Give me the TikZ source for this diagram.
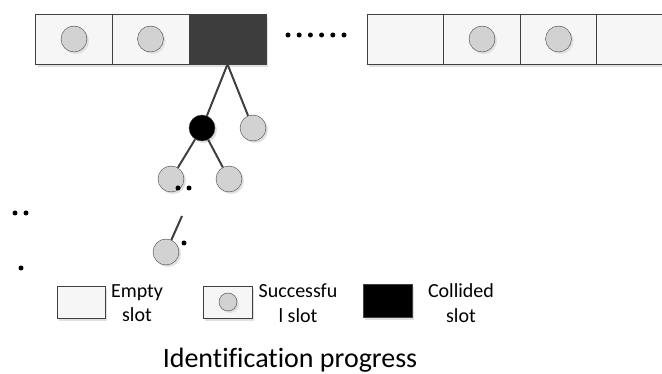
\documentclass[tikz,border=0pt]{standalone}
\usepackage{fontspec}
\setmainfont[Ligatures=CommonOff]{Carlito}
\usetikzlibrary{shadows}
\definecolor{slotfill}{HTML}{F6F6F6}
\definecolor{linegray}{HTML}{404040}
\definecolor{taggray}{HTML}{D2D2D2}
\definecolor{darkslot}{HTML}{3D3D3D}
\tikzstyle{slot}=[draw=linegray,fill=slotfill,minimum width=77pt,minimum height=50pt,inner sep=0pt,drop shadow={shadow xshift=2pt,shadow yshift=-3pt,fill=black!12,opacity=1}]
\tikzstyle{collided}=[slot,fill=darkslot]
\tikzstyle{tag}=[circle,draw=linegray,fill=taggray,minimum size=26pt,inner sep=0pt,drop shadow={shadow xshift=2pt,shadow yshift=-2pt,fill=black!12,opacity=1}]
\tikzstyle{dot}=[circle,fill=black,minimum size=5pt,inner sep=0pt]
\tikzstyle{branch}=[draw=linegray,line width=2pt]
\tikzstyle{legendtext}=[font=\fontsize{20}{24.5}\selectfont,align=center,inner sep=0pt]

\begin{document}
\begin{tikzpicture}[x=1pt,y=-1pt]
	\useasboundingbox (0,0) rectangle (662,374);
	\clip (0,0) rectangle (662,374);
	
	% slot row
	\foreach \pos/\name in {{(74,39)/s1},{(150.5,39)/s2},{(405.5,39)/s4},{(482,39)/s5},{(558.5,39)/s6},{(635,39)/s7}}
	\node[slot] (\name) at \pos {};
	\node[collided] (s3) at (227.5,39) {};
	\foreach \pos/\name in {{(74,39)/c1},{(150.5,39)/c2},{(482,39)/c5},{(558.5,39)/c6}}
	\node[tag] (\name) at \pos {};
	
	% splitting tree
	\node[tag,fill=black] (t1) at (202,128) {};
	\foreach \pos/\name in {{(253,128)/t2},{(171,179)/t3},{(229,179)/t4},{(166,252)/t5}}
	\node[tag] (\name) at \pos {};
	\coordinate (cut) at (182,216);
	\foreach \source/\dest in {s3.south/t1,s3.south/t2,t1/t3,t1/t4,cut/t5}
	\path[branch] (\source) -- (\dest);
	
	\foreach \pos/\name in {{(288,35)/d1},{(299.2,35)/d2},{(310.4,35)/d3},{(321.6,35)/d4},{(332.8,35)/d5},{(344,35)/d6},{(178,188)/d7},{(189,188)/d8},{(15,213)/d9},{(26,213)/d10},{(21,268)/d11},{(184,243)/d12}}
	\node[dot] (\name) at \pos {};
	
	% legend
	\node[slot,minimum width=48pt,minimum height=32pt] (le) at (81,302) {};
	\node[slot,minimum width=49pt,minimum height=32pt] (ls) at (227.5,302) {};
	\node[tag,minimum size=18pt] (lc) at (228,302) {};
	\node[collided,fill=black,minimum width=49pt,minimum height=33pt] (lk) at (387.5,300.5) {};
	\node[legendtext] (le text) at (137,303) {Empty\\slot};
	\node[legendtext] (ls text) at (298,303) {Successfu\\l slot};
	\node[legendtext] (lk text) at (461,303) {Collided\\slot};
	
	\node[font=\fontsize{28}{33}\selectfont,anchor=base] (title) at (290,367) {Identification progress};
\end{tikzpicture}
\end{document}
